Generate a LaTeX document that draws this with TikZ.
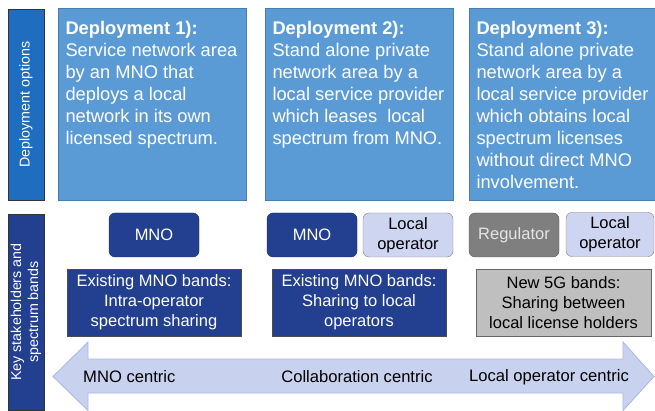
\documentclass[tikz,border=0pt]{standalone}
\usepackage{fontspec}
\setmainfont{Liberation Sans}
\usepackage{tikz}
\usetikzlibrary{positioning}

\definecolor{depblue}{HTML}{5B9BD5}
\definecolor{optblue}{HTML}{1F6DBE}
\definecolor{navy}{HTML}{22408F}
\definecolor{lavender}{HTML}{CDD5F0}
\definecolor{arrowfill}{HTML}{C8D2EE}
\definecolor{arrowline}{HTML}{A9B8E3}
\definecolor{reggray}{HTML}{7F7F7F}
\definecolor{bandgray}{HTML}{BFBFBF}

\begin{document}
\begin{tikzpicture}[x=1pt, y=-1pt,
    depbox/.style={fill=depblue, draw=depblue!80!black, line width=0.4pt, inner sep=0pt},
    deptext/.style={anchor=north west, inner sep=0pt, text=white, align=left,
        font=\fontsize{18.3}{22}\selectfont},
    sidebar/.style={draw=black!80, line width=0.6pt, minimum width=36, inner sep=0pt},
    sidetext/.style={rotate=90, text=white, align=center, font=\fontsize{14.3}{17}\selectfont},
    holder/.style={rounded corners=6pt, minimum width=90, minimum height=44, inner sep=0pt,
        align=center, font=\fontsize{16.5}{20}\selectfont},
    band/.style={minimum width=174, minimum height=67, inner sep=0pt,
        align=center, font=\fontsize{16.5}{20}\selectfont},
    scaletext/.style={inner sep=0pt, font=\fontsize{16.6}{20}\selectfont}]

    \useasboundingbox (0,0) rectangle (655,411);

    % Side bars
    \node[sidebar, fill=optblue, minimum height=191] (optbar) at (26,104.5) {};
    \node[sidetext] at (optbar.center) {Deployment options};
    \node[sidebar, fill=navy, minimum height=196] (keybar) at (26,312) {};
    \node[sidetext] at (keybar.center) {Key stakeholders and\\spectrum bands};

    % Deployment options
    \node[depbox, minimum width=188, minimum height=192] (dep1) at (152,104) {};
    \node[depbox, minimum width=188, minimum height=192] (dep2) at (359,104) {};
    \node[depbox, minimum width=186, minimum height=192] (dep3) at (562,104) {};

    \node[deptext] (dep1txt) at ([xshift=7.5, yshift=-13.5]dep1.north west)
        {\textbf{Deployment 1):}\\Service network area\\by an MNO that\\deploys a local\\network in its own\\licensed spectrum.};
    \node[deptext] (dep2txt) at ([xshift=7.5, yshift=-13.5]dep2.north west)
        {\textbf{Deployment 2):}\\Stand alone private\\network area by a\\local service provider\\which leases\ \ local\\spectrum from MNO.};
    \node[deptext] (dep3txt) at ([xshift=7.5, yshift=-13.5]dep3.north west)
        {\textbf{Deployment 3):}\\Stand alone private\\network area by a\\local service provider\\which obtains local\\spectrum licenses\\without direct MNO\\involvement.};

    % Key stakeholders
    \node[holder, fill=navy, draw=navy!70!black, text=white] (mno1) at (154,235) {MNO};
    \node[holder, fill=navy, draw=navy!70!black, text=white] (mno2) at (312,235) {MNO};
    \node[holder, fill=lavender, draw=reggray] (local2) at (408,235) {Local\\operator};
    \node[holder, fill=reggray, draw=black!65, text=white!90!black] (reg3) at (514,235) {Regulator};
    \node[holder, fill=lavender, draw=reggray, minimum width=88] (local3) at (610,234.5) {Local\\operator};

    % Spectrum bands
    \node[band, fill=navy, draw=black!70, text=white] (band1) at (154,302.5)
        {Existing MNO bands:\\Intra-operator\\spectrum sharing};
    \node[band, fill=navy, draw=black!70, text=white] (band2) at (359,302.5)
        {Existing MNO bands:\\Sharing to local\\operators};
    \node[band, fill=bandgray, draw=black!60, minimum width=175] (band3) at (563.5,302.5)
        {New 5G bands:\\Sharing between\\local license holders};

    % Double arrow
    \draw[fill=arrowfill, draw=arrowline, line width=0.8pt, line join=miter]
        (53,376.5) -- (88,342) -- (88,359) -- (623,359) -- (623,342) -- (654,376.5)
        -- (623,410.5) -- (623,393) -- (88,393) -- (88,410.5) -- cycle;

    \node[scaletext, anchor=west] (mnoc) at (83,377) {MNO centric};
    \node[scaletext] (collabc) at (357,377) {Collaboration centric};
    \node[scaletext, anchor=west] (localc) at (469,377) {Local operator centric};
\end{tikzpicture}
\end{document}
